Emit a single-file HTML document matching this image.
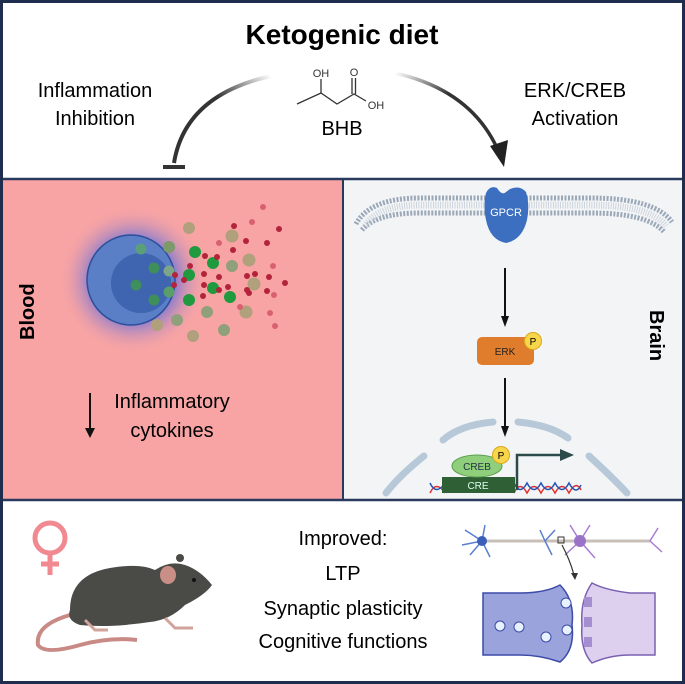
<!DOCTYPE html>
<html><head><meta charset="utf-8"><style>
html,body{margin:0;padding:0;background:#fff}
svg{display:block}
text{font-family:"Liberation Sans",sans-serif}
</style></head><body>
<svg width="685" height="684" viewBox="0 0 685 684" xmlns="http://www.w3.org/2000/svg">
<defs>
<radialGradient id="glow" cx="0.5" cy="0.5" r="0.5">
<stop offset="0.55" stop-color="#6a70d8" stop-opacity="0.8"/>
<stop offset="1" stop-color="#f9a3a3" stop-opacity="0"/>
</radialGradient>
<linearGradient id="fadeL" x1="1" y1="0" x2="0" y2="1">
<stop offset="0" stop-color="#333" stop-opacity="0"/><stop offset="0.4" stop-color="#333"/>
</linearGradient>
<linearGradient id="fadeR" x1="0" y1="0" x2="1" y2="1">
<stop offset="0" stop-color="#333" stop-opacity="0"/><stop offset="0.4" stop-color="#333"/>
</linearGradient>
</defs>
<rect x="0" y="0" width="685" height="684" fill="#fff"/>
<rect x="3" y="179" width="340" height="321" fill="#f9a4a4"/>
<rect x="343" y="179" width="339" height="321" fill="#f3f4f6"/>
<line x1="343" y1="179" x2="343" y2="500" stroke="#2a3a5e" stroke-width="2"/>
<line x1="0" y1="179" x2="685" y2="179" stroke="#2a3a5e" stroke-width="2.5"/>
<line x1="0" y1="500" x2="685" y2="500" stroke="#2a3a5e" stroke-width="2.5"/>
<rect x="1.5" y="1.5" width="682" height="681" fill="none" stroke="#1f2d4f" stroke-width="3"/>

<!-- top -->
<text x="342" y="44" font-size="28" font-weight="bold" text-anchor="middle">Ketogenic diet</text>
<text x="95" y="97" font-size="20" text-anchor="middle">Inflammation</text>
<text x="95" y="125" font-size="20" text-anchor="middle">Inhibition</text>
<text x="575" y="97" font-size="20" text-anchor="middle">ERK/CREB</text>
<text x="575" y="125" font-size="20" text-anchor="middle">Activation</text>
<text x="342" y="135" font-size="20" text-anchor="middle">BHB</text>
<g stroke="#333" stroke-width="1.3" fill="none">
<polyline points="297,104 321,93 337,104 354,94 366,101"/>
<line x1="321" y1="93" x2="321" y2="79"/>
<line x1="352" y1="94" x2="352" y2="78"/><line x1="355.5" y1="94" x2="355.5" y2="78"/>
</g>
<text x="321" y="77" font-size="11" text-anchor="middle" fill="#333">OH</text>
<text x="354" y="76" font-size="11" text-anchor="middle" fill="#333">O</text>
<text x="376" y="109" font-size="11" text-anchor="middle" fill="#333">OH</text>
<path d="M271,76 Q185,95 174,163" stroke="url(#fadeL)" stroke-width="4" fill="none"/>
<line x1="163" y1="167" x2="185" y2="167" stroke="#333" stroke-width="4"/>
<path d="M395,73 Q470,90 497,148" stroke="url(#fadeR)" stroke-width="3.5" fill="none"/>
<polygon points="490,146 508,140 504,167" fill="#222"/>

<!-- blood -->
<ellipse cx="133" cy="280" rx="75" ry="75" fill="url(#glow)"/>
<ellipse cx="131" cy="280" rx="44" ry="45" fill="#5a7fc6" stroke="#2c4f9c" stroke-width="1.5"/>
<circle cx="141" cy="283" r="30" fill="#3f64b0"/>
<g>
<circle cx="141" cy="249" r="5.5" fill="#5a9e7a"/><circle cx="169" cy="247" r="6" fill="#7c9a6a"/>
<circle cx="154" cy="268" r="5.5" fill="#3f8f5c"/><circle cx="136" cy="285" r="5.5" fill="#3f8f5c"/>
<circle cx="169" cy="271" r="5.5" fill="#7ca58a"/><circle cx="169" cy="292" r="5.5" fill="#5a9e6a"/>
<circle cx="154" cy="300" r="5.5" fill="#3f8f5c"/>
<circle cx="189" cy="228" r="6" fill="#b0a07c"/><circle cx="195" cy="252" r="6" fill="#1f9a3f"/>
<circle cx="213" cy="263" r="6" fill="#1f9a3f"/><circle cx="189" cy="275" r="6" fill="#1f9a3f"/>
<circle cx="213" cy="288" r="6" fill="#1f9a3f"/><circle cx="230" cy="297" r="6" fill="#1f9a3f"/>
<circle cx="189" cy="300" r="6" fill="#1f9a3f"/><circle cx="232" cy="236" r="6.5" fill="#b0a07c"/>
<circle cx="232" cy="266" r="6" fill="#8fa07a"/><circle cx="249" cy="260" r="6.5" fill="#b0a07c"/>
<circle cx="254" cy="284" r="6.5" fill="#b0a07c"/><circle cx="207" cy="312" r="6" fill="#8fa07a"/>
<circle cx="246" cy="312" r="6.5" fill="#b0a07c"/><circle cx="177" cy="320" r="6" fill="#8fa07a"/>
<circle cx="157" cy="325" r="6" fill="#b0a07c"/><circle cx="193" cy="336" r="6" fill="#b0a07c"/>
<circle cx="224" cy="330" r="6" fill="#8fa07a"/>
<g fill="#b3233a">
<circle cx="234" cy="226" r="3"/><circle cx="279" cy="229" r="3"/><circle cx="246" cy="241" r="3"/>
<circle cx="267" cy="243" r="3"/><circle cx="233" cy="250" r="3"/><circle cx="205" cy="256" r="3"/>
<circle cx="217" cy="257" r="3"/><circle cx="255" cy="274" r="3"/><circle cx="190" cy="266" r="3"/>
<circle cx="175" cy="275" r="3"/><circle cx="204" cy="274" r="3"/><circle cx="184" cy="280" r="3"/>
<circle cx="219" cy="277" r="3"/><circle cx="247" cy="276" r="3"/><circle cx="269" cy="277" r="3"/>
<circle cx="204" cy="285" r="3"/><circle cx="219" cy="290" r="3"/><circle cx="247" cy="290" r="3"/>
<circle cx="267" cy="291" r="3"/><circle cx="285" cy="283" r="3"/><circle cx="203" cy="296" r="3"/>
<circle cx="228" cy="287" r="3"/><circle cx="249" cy="293" r="3"/><circle cx="174" cy="285" r="3"/>
</g>
<g fill="#d96070">
<circle cx="263" cy="207" r="3"/><circle cx="252" cy="222" r="3"/><circle cx="219" cy="243" r="3"/>
<circle cx="273" cy="266" r="3"/><circle cx="274" cy="295" r="3"/><circle cx="240" cy="307" r="3"/>
<circle cx="270" cy="313" r="3"/><circle cx="275" cy="326" r="3"/>
</g>
</g>
<text transform="translate(34,340) rotate(-90)" font-size="20" font-weight="bold">Blood</text>
<line x1="90" y1="393" x2="90" y2="430" stroke="#111" stroke-width="2"/>
<polygon points="85,428 95,428 90,438" fill="#111"/>
<text x="172" y="408" font-size="20" text-anchor="middle">Inflammatory</text>
<text x="172" y="437" font-size="20" text-anchor="middle">cytokines</text>

<!-- brain -->
<path d="M356,224 Q370,198 420,198 L590,198 Q655,198 672,222" stroke="#9aa8b8" stroke-width="5" fill="none" stroke-dasharray="2 1.5"/>
<path d="M362,230 Q376,213 420,213 L590,213 Q648,213 664,232" stroke="#9aa8b8" stroke-width="5" fill="none" stroke-dasharray="2 1.5"/>
<path d="M365,226 Q378,205 420,205 L590,205 Q650,205 666,226" stroke="#c5ced8" stroke-width="7" fill="none" stroke-dasharray="0.8 1.6"/>
<path d="M486,193 Q490,185 497,188 Q502,196 506,192 L510,189 Q520,185 526,192 Q530,205 527,220 Q522,240 506,243 Q490,240 486,220 Q483,205 486,193 Z" fill="#3c6fc0"/>
<text x="506" y="216" font-size="11" fill="#fff" text-anchor="middle">GPCR</text>
<line x1="505" y1="268" x2="505" y2="318" stroke="#111" stroke-width="2"/>
<polygon points="501,316 509,316 505,327" fill="#111"/>
<rect x="477" y="337" width="57" height="28" rx="5" fill="#e07d2c"/>
<text x="505" y="355" font-size="10" text-anchor="middle" fill="#222">ERK</text>
<circle cx="533" cy="341" r="8.5" fill="#f7d64a" stroke="#d9a81f"/>
<text x="533" y="345" font-size="10" text-anchor="middle">P</text>
<line x1="505" y1="378" x2="505" y2="428" stroke="#111" stroke-width="2"/>
<polygon points="501,426 509,426 505,437" fill="#111"/>
<g stroke="#b7c9d9" stroke-width="7" fill="none" stroke-linecap="round">
<path d="M443,440 Q460,425 493,422"/>
<path d="M518,422 Q550,425 568,438"/>
<path d="M424,456 Q400,475 386,493"/>
<path d="M589,456 Q610,475 627,493"/>
</g>
<path d="M430,493 Q436,480 445,493 M514,493 Q520,480 527,493 Q534,480 541,493 Q548,480 555,493 Q562,480 569,493 Q576,480 581,490" stroke="#d33" stroke-width="1.5" fill="none"/>
<path d="M430,483 Q436,496 445,483 M514,483 Q520,496 527,483 Q534,496 541,483 Q548,496 555,483 Q562,496 569,483 Q576,496 581,485" stroke="#2456b8" stroke-width="1.5" fill="none"/>
<rect x="442" y="477" width="73" height="16" fill="#2f5f34"/>
<text x="478" y="489" font-size="10" text-anchor="middle" fill="#dfe">CRE</text>
<ellipse cx="477" cy="466" rx="25" ry="11" fill="#8fcf7c" stroke="#5a9e4c"/>
<text x="477" y="470" font-size="10" text-anchor="middle" fill="#234">CREB</text>
<circle cx="501" cy="455" r="8.5" fill="#f7d64a" stroke="#d9a81f"/>
<text x="501" y="459" font-size="10" text-anchor="middle">P</text>
<polyline points="517,490 517,455 562,455" stroke="#2d4a4a" stroke-width="2.5" fill="none"/>
<polygon points="560,449 574,455 560,461" fill="#2d4a4a"/>
<text transform="translate(650,310) rotate(90)" font-size="20" font-weight="bold">Brain</text>

<!-- bottom -->
<g stroke="#f08a90" stroke-width="5" fill="none">
<circle cx="50" cy="538" r="15"/>
<line x1="50" y1="553" x2="50" y2="575"/>
<line x1="41" y1="564" x2="59" y2="564"/>
</g>
<path d="M70,615 Q35,625 38,645 Q45,655 80,645 Q110,637 137,640" stroke="#c98a85" stroke-width="4" fill="none"/>
<path d="M70,610 Q70,575 110,568 Q140,563 155,570 Q170,560 185,565 Q200,570 212,585 Q205,595 185,605 Q170,620 150,622 Q110,628 80,625 Q66,620 70,610 Z" fill="#4a4a47"/>
<ellipse cx="168" cy="575" rx="8" ry="9" fill="#c98e86"/>
<circle cx="180" cy="558" r="4" fill="#4a4a47"/>
<circle cx="194" cy="580" r="2" fill="#111"/>
<path d="M85,620 L95,630 L108,630 M165,618 L175,628 L193,628" stroke="#d2a39a" stroke-width="3" fill="none"/>
<text x="343" y="545" font-size="20" text-anchor="middle">Improved:</text>
<text x="343" y="580" font-size="20" text-anchor="middle">LTP</text>
<text x="343" y="615" font-size="20" text-anchor="middle">Synaptic plasticity</text>
<text x="343" y="648" font-size="20" text-anchor="middle">Cognitive functions</text>
<line x1="485" y1="541" x2="650" y2="541" stroke="#c8c0b8" stroke-width="3"/>
<g stroke="#5a7fd0" stroke-width="1.5" fill="none">
<path d="M482,541 L465,530 M482,541 L462,545 M482,541 L470,555 M482,541 L485,525 M482,541 L490,557 M545,541 L555,530 M545,541 L552,555 M545,541 L540,530"/>
</g>
<circle cx="482" cy="541" r="5" fill="#3b5fb8"/>
<g stroke="#a77fd0" stroke-width="1.5" fill="none">
<path d="M580,541 L570,525 M580,541 L590,525 M580,541 L565,555 M580,541 L595,558 M650,541 L658,528 M650,541 L662,552"/>
</g>
<circle cx="580" cy="541" r="6" fill="#9a72c8"/>
<rect x="558" y="537" width="6" height="6" fill="none" stroke="#333"/>
<path d="M562,545 Q570,560 574,575" stroke="#333" fill="none" stroke-width="1.2"/>
<polygon points="571,573 578,573 575,580" fill="#333"/>
<path d="M483,593 L520,593 Q545,593 560,585 Q575,600 572,625 Q575,650 560,662 Q540,655 520,655 L483,655 Z" fill="#9aa3db" stroke="#3c4aa8" stroke-width="1.5"/>
<path d="M655,593 L630,593 Q605,590 592,583 Q580,600 582,625 Q580,650 592,663 Q610,655 630,655 L655,655 Z" fill="#ddd0ee" stroke="#7a60b0" stroke-width="1.5"/>
<g fill="#e8f2ff" stroke="#3c4aa8"><circle cx="500" cy="626" r="5"/><circle cx="519" cy="627" r="5"/><circle cx="546" cy="637" r="5"/><circle cx="567" cy="630" r="5"/><circle cx="566" cy="603" r="5"/></g>
<g fill="#a58fd0"><rect x="584" y="597" width="8" height="10"/><rect x="584" y="617" width="8" height="10"/><rect x="584" y="637" width="8" height="10"/></g>
</svg>
</body></html>
